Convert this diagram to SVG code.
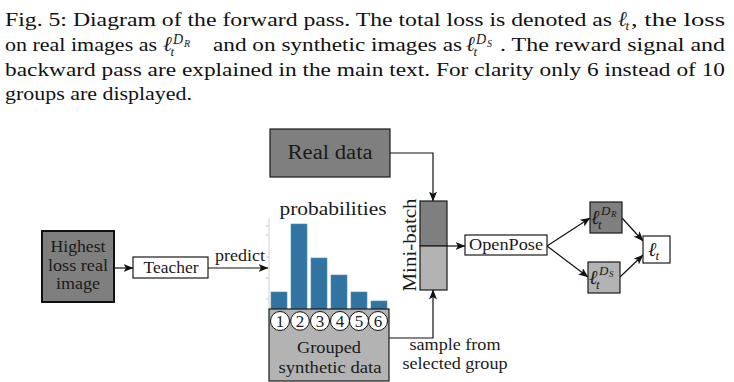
<svg xmlns="http://www.w3.org/2000/svg" width="734" height="382" viewBox="0 0 734 382">
<style>
.t{font-family:"Liberation Serif","DejaVu Serif",serif;fill:#1a1a1a}
.m{font-family:"Liberation Serif","DejaVu Serif",serif;font-style:italic;fill:#1a1a1a}
.cp{font-family:"Liberation Serif","DejaVu Serif",serif;font-size:19.5px;fill:#111}
.dark{fill:#7f7f7f;stroke:#1a1a1a;stroke-width:1.2}
.light{fill:#b3b3b3;stroke:#1a1a1a;stroke-width:1.2}
.white{fill:#fff;stroke:#1a1a1a;stroke-width:1.2}
.bar{fill:#3274a1;stroke:#4a8ab5;stroke-width:0.6}
.con{fill:none;stroke:#111;stroke-width:1.2}
.circ{fill:#fff;stroke:#111;stroke-width:1}
</style>
<defs>
<marker id="ah" markerWidth="10" markerHeight="8" refX="9.5" refY="4" orient="auto" markerUnits="userSpaceOnUse">
<path d="M0,0 L10,4 L0,8 L2.5,4 Z" fill="#111"/>
</marker>
</defs>

<g id="caption">
<text class="cp" x="5" y="26" textLength="607" lengthAdjust="spacingAndGlyphs">Fig. 5: Diagram of the forward pass. The total loss is denoted as</text>
<text class="m" x="618" y="26" font-size="21">ℓ</text>
<text class="m" x="625.5" y="30" font-size="13">t</text>
<text class="cp" x="631" y="26" textLength="94" lengthAdjust="spacingAndGlyphs">, the loss</text>

<text class="cp" x="5" y="51" textLength="152" lengthAdjust="spacingAndGlyphs">on real images as</text>
<text class="m" x="163" y="51" font-size="21">ℓ</text>
<text class="m" x="170.5" y="56" font-size="13">t</text>
<text class="m" x="173" y="44" font-size="14">D</text>
<text class="m" x="184" y="47" font-size="10">R</text>
<text class="cp" x="213" y="51" textLength="249" lengthAdjust="spacingAndGlyphs">and on synthetic images as</text>
<text class="m" x="466" y="51" font-size="21">ℓ</text>
<text class="m" x="473.5" y="56" font-size="13">t</text>
<text class="m" x="476" y="44" font-size="14">D</text>
<text class="m" x="487" y="47" font-size="10">S</text>
<text class="cp" x="500" y="51" textLength="225" lengthAdjust="spacingAndGlyphs">. The reward signal and</text>

<text class="cp" x="5" y="76" textLength="720" lengthAdjust="spacingAndGlyphs">backward pass are explained in the main text. For clarity only 6 instead of 10</text>
<text class="cp" x="5" y="100" textLength="187" lengthAdjust="spacingAndGlyphs">groups are displayed.</text>
</g>

<g id="connectors">
<line class="con" x1="114" y1="268" x2="133" y2="268" marker-end="url(#ah)"/>
<line class="con" x1="208" y1="268" x2="268" y2="268" marker-end="url(#ah)"/>
<polyline class="con" points="390,153 433,153 433,201" marker-end="url(#ah)"/>
<polyline class="con" points="300,331 300,338 433,338 433,290" marker-end="url(#ah)"/>
<line class="con" x1="447" y1="246" x2="465" y2="246" marker-end="url(#ah)"/>
<line class="con" x1="547" y1="246" x2="590" y2="218" marker-end="url(#ah)"/>
<line class="con" x1="547" y1="246" x2="588" y2="277" marker-end="url(#ah)"/>
<line class="con" x1="622" y1="218" x2="643" y2="241" marker-end="url(#ah)"/>
<line class="con" x1="620" y1="277" x2="643" y2="255" marker-end="url(#ah)"/>
</g>

<g id="real-data">
<rect class="dark" x="270" y="129" width="120" height="48"/>
<text class="t" x="330" y="159" font-size="20" text-anchor="middle" textLength="85" lengthAdjust="spacingAndGlyphs">Real data</text>
</g>

<g id="highest-loss">
<rect x="42" y="231" width="72" height="71" fill="#7f7f7f" stroke="#111" stroke-width="2"/>
<text class="t" x="78" y="252" font-size="16" text-anchor="middle" textLength="55" lengthAdjust="spacingAndGlyphs">Highest</text>
<text class="t" x="78" y="271" font-size="16" text-anchor="middle" textLength="60" lengthAdjust="spacingAndGlyphs">loss real</text>
<text class="t" x="78" y="289" font-size="16" text-anchor="middle" textLength="44" lengthAdjust="spacingAndGlyphs">image</text>
</g>

<g id="teacher">
<rect class="white" x="133" y="257" width="75" height="21"/>
<text class="t" x="171" y="273" font-size="16" text-anchor="middle" textLength="55" lengthAdjust="spacingAndGlyphs">Teacher</text>
</g>

<g id="predict-label">
<text class="t" x="240" y="261" font-size="16" text-anchor="middle" textLength="50" lengthAdjust="spacingAndGlyphs">predict</text>
</g>

<g id="probabilities">
<text class="t" x="333" y="215" font-size="19" text-anchor="middle" textLength="107" lengthAdjust="spacingAndGlyphs">probabilities</text>
<line x1="269" y1="218" x2="269" y2="309" stroke="#d0d0d0" stroke-width="1"/>
<g stroke="#c8c8c8" stroke-width="1">
<line x1="266" y1="226" x2="269" y2="226"/>
<line x1="266" y1="235" x2="269" y2="235"/>
<line x1="266" y1="257" x2="269" y2="257"/>
<line x1="266" y1="278" x2="269" y2="278"/>
<line x1="266" y1="299" x2="269" y2="299"/>
</g>
<rect class="bar" x="271" y="292" width="16" height="17"/>
<rect class="bar" x="291" y="224" width="16" height="85"/>
<rect class="bar" x="311" y="258" width="16" height="51"/>
<rect class="bar" x="331" y="275" width="16" height="34"/>
<rect class="bar" x="351" y="292" width="16" height="17"/>
<rect class="bar" x="371" y="301" width="16" height="8"/>
</g>

<g id="grouped-synthetic">
<rect class="light" x="269" y="309" width="120" height="72"/>
<circle class="circ" cx="280" cy="321" r="9.5"/>
<circle class="circ" cx="300" cy="321" r="9.3" stroke-width="2.6"/>
<circle class="circ" cx="320" cy="321" r="9.5"/>
<circle class="circ" cx="340" cy="321" r="9.5"/>
<circle class="circ" cx="359" cy="321" r="9.5"/>
<circle class="circ" cx="378" cy="321" r="9.5"/>
<g class="t" font-size="17" text-anchor="middle">
<text x="280" y="327">1</text>
<text x="300" y="327">2</text>
<text x="320" y="327">3</text>
<text x="340" y="327">4</text>
<text x="359" y="327">5</text>
<text x="378" y="327">6</text>
</g>
<text class="t" x="329" y="353" font-size="16" text-anchor="middle" textLength="64" lengthAdjust="spacingAndGlyphs">Grouped</text>
<text class="t" x="330" y="373" font-size="16" text-anchor="middle" textLength="103" lengthAdjust="spacingAndGlyphs">synthetic data</text>
</g>

<g id="sample-label">
<text class="t" x="455" y="350" font-size="16" text-anchor="middle" textLength="91" lengthAdjust="spacingAndGlyphs">sample from</text>
<text class="t" x="455" y="369" font-size="16" text-anchor="middle" textLength="105" lengthAdjust="spacingAndGlyphs">selected group</text>
</g>

<g id="mini-batch">
<rect class="dark" x="420" y="201" width="27" height="45"/>
<rect class="light" x="420" y="246" width="27" height="44"/>
<text class="t" transform="translate(416,245) rotate(-90)" x="0" y="0" font-size="19" text-anchor="middle" textLength="93" lengthAdjust="spacingAndGlyphs">Mini-batch</text>
</g>

<g id="openpose">
<rect class="white" x="465" y="235" width="82" height="20"/>
<text class="t" x="506" y="250" font-size="16" text-anchor="middle" textLength="74" lengthAdjust="spacingAndGlyphs">OpenPose</text>
</g>

<g id="loss-real">
<rect class="dark" x="590" y="202" width="32" height="31"/>
<text class="m" x="591" y="224" font-size="20">ℓ</text>
<text class="m" x="598" y="229" font-size="13">t</text>
<text class="m" x="601" y="215" font-size="13">D</text>
<text class="m" x="611" y="217" font-size="9">R</text>
</g>

<g id="loss-synth">
<rect class="light" x="588" y="262" width="32" height="31"/>
<text class="m" x="589" y="284" font-size="20">ℓ</text>
<text class="m" x="596" y="289" font-size="13">t</text>
<text class="m" x="599" y="275" font-size="13">D</text>
<text class="m" x="609" y="277" font-size="9">S</text>
</g>

<g id="loss-total">
<rect class="white" x="643" y="236" width="27" height="27"/>
<text class="m" x="648" y="256" font-size="20">ℓ</text>
<text class="m" x="655.5" y="260" font-size="13">t</text>
</g>
</svg>
